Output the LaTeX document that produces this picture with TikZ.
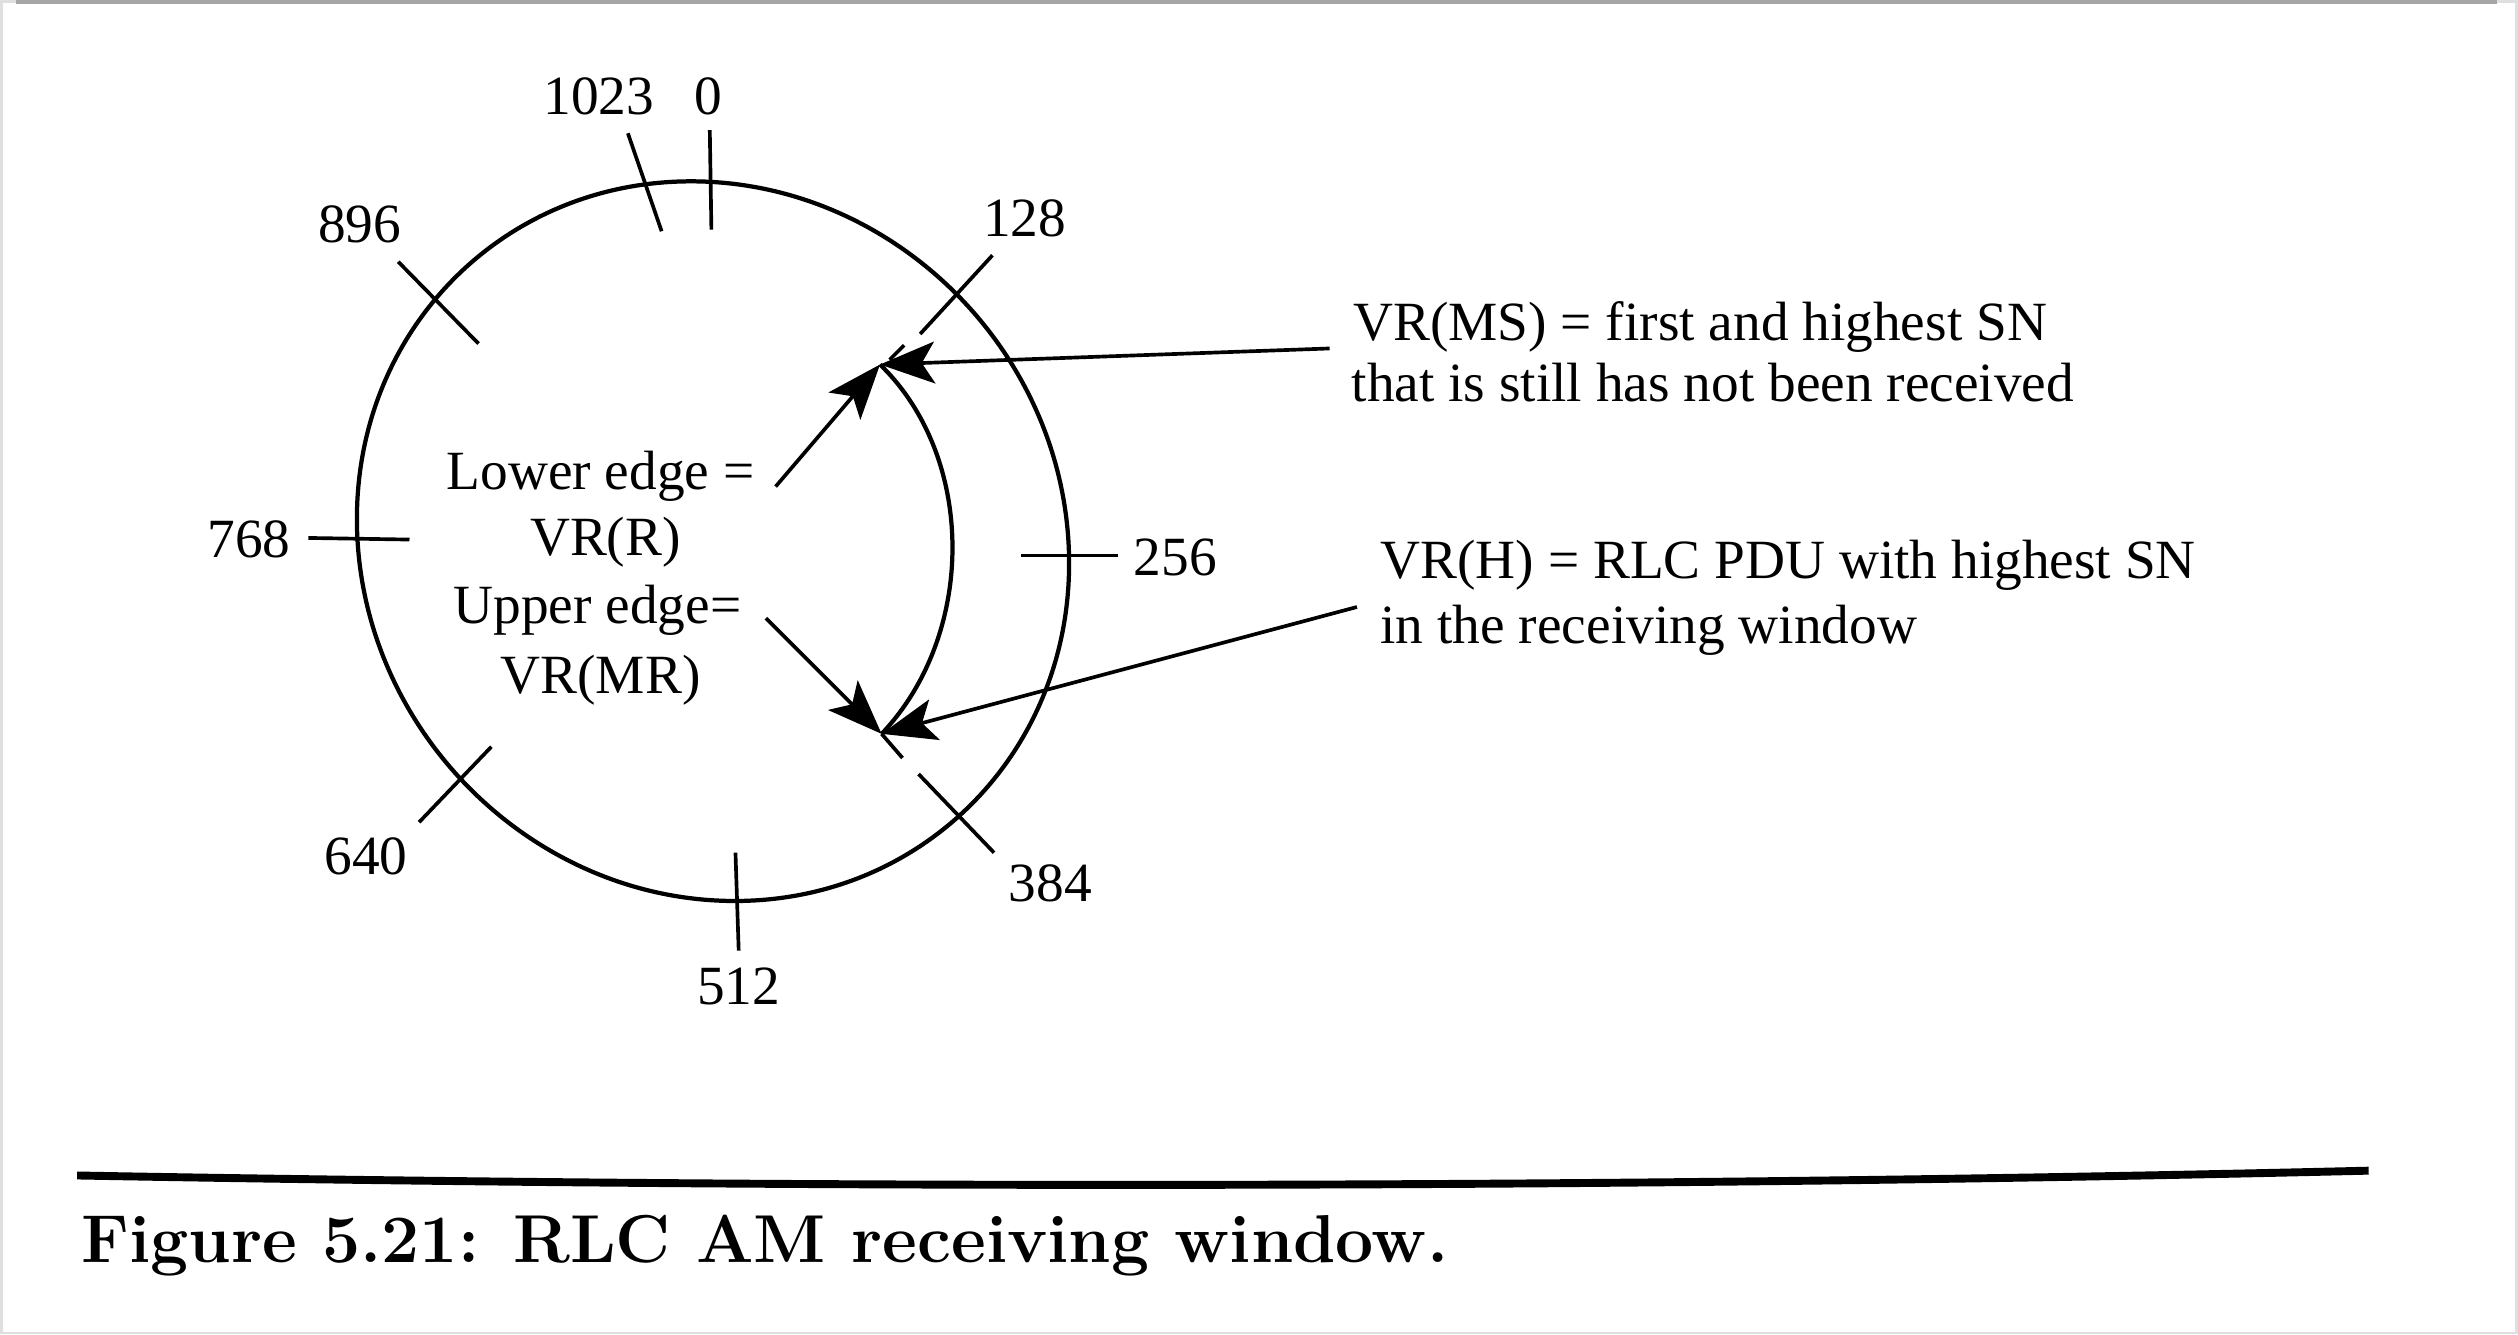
\documentclass[tikz,border=0pt]{standalone}
\usepackage{fontspec}
\usetikzlibrary{arrows.meta}
\newfontfamily\lblfont{Liberation Serif}

\begin{document}
\begin{tikzpicture}[x=0.01cm,y=-0.01cm,
        lbl/.style={font=\lblfont\fontsize{9.8}{11.8}\selectfont, inner sep=0pt},
        tick/.style={line width=0.65pt},
        ptr/.style={line width=0.65pt, -{Stealth[length=3.4mm, width=2.6mm, inset=0.8mm]}}]
        \useasboundingbox (0,0) rectangle (1568,831);
        \draw[gray!25, line width=0.4pt] (1,1) rectangle (1567,830);
        \draw[gray!70, line width=0.8pt] (10,1) -- (1555,1);

        \draw[line width=0.75pt, cm={1,-0.025,-0.036,1,(444,337)}] (0,0) ellipse [x radius=221.6, y radius=224];

        \node[lbl](n1023) at (373,60) {1023};
        \node[lbl](n0) at (441,60) {0};
        \node[lbl](n128) at (638,136) {128};
        \node[lbl](n896) at (224,140) {896};
        \node[lbl](n768) at (155,336) {768};
        \node[lbl](n256) at (732,347) {256};
        \node[lbl](n640) at (228,533) {640};
        \node[lbl](n384) at (654,550) {384};
        \node[lbl](n512) at (460,614) {512};

        \draw[tick] (442,81) -- (443,143);
        \draw[tick] (391,83) -- (412,144);
        \draw[tick] (248,163) -- (298,214);
        \draw[tick] (618,159) -- (573,208);
        \draw[tick] (563,215) -- (554,224);
        \draw[tick] (636,346) -- (696,346);
        \draw[tick] (572,482) -- (619,531);
        \draw[tick] (549,457) -- (562,472);
        \draw[tick] (306,465) -- (261,512);
        \draw[tick] (458,531) -- (460,592);
        \draw[tick] (192,335) -- (255,336);

        \coordinate(lo) at (548,227);
        \coordinate(hi) at (549,457);
        \draw[line width=0.75pt] (lo) .. controls (608,285) and (608,395) .. (hi);

        \node[lbl, anchor=base](le) at (374,305) {Lower edge =};
        \node[lbl, anchor=base](vrr) at (377,346) {VR(R)};
        \node[lbl, anchor=base](ue) at (372,388) {Upper edge=};
        \node[lbl, anchor=base](vrmr) at (374,432) {VR(MR)};
        \node[lbl, anchor=base west](ms1) at (842,212) {VR(MS) = first and highest SN};
        \node[lbl, anchor=base west](ms2) at (841,250) {that is still has not been received};
        \node[lbl, anchor=base west](h1) at (859,360) {VR(H) = RLC PDU with highest SN};
        \node[lbl, anchor=base west](h2) at (859,401) {in the receiving window};

        \coordinate(leend) at (483,303);
        \coordinate(ueend) at (477,385);
        \coordinate(msend) at (828,217);
        \coordinate(hend) at (845,378);
        \draw[ptr] (leend) -- (lo);
        \draw[ptr] (msend) -- (lo);
        \draw[ptr] (ueend) -- (hi);
        \draw[ptr] (hend) -- (hi);

        \draw[line width=1.4pt] (48,732) .. controls (600,742) and (1100,738) .. (1475,729);
        \node[anchor=base west, inner sep=0pt, font=\bfseries\fontsize{12}{14}\selectfont](cap) at (50,786) {Figure 5.21: RLC AM receiving window.};
        \end{tikzpicture}
\end{document}
